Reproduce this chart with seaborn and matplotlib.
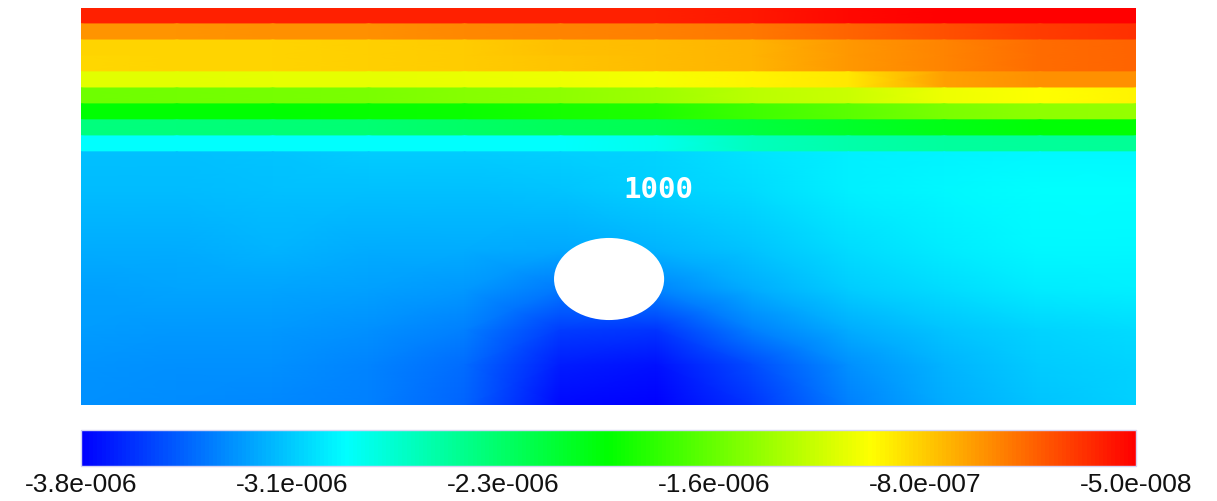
import numpy as np
import matplotlib
matplotlib.use("Agg")
import matplotlib.pyplot as plt
from matplotlib.colors import Normalize
from matplotlib.patches import Ellipse
import seaborn as sns

sns.set_theme(style="white")
plt.rcParams["font.family"] = ["Liberation Sans", "DejaVu Sans"]

# Horizontal node positions (m)
x_nodes = [0, 5, 10, 15, 20, 25, 30, 35, 40, 45, 50, 55]

# Layered upper zone: layer boundaries (depth, m) and values per layer (x1e-6)
layer_edges = [0.0, 0.83, 1.67, 2.5, 3.33, 4.17, 5.0, 5.83, 6.67, 7.5]
layer_1 = [-0.18, -0.18, -0.18, -0.18, -0.18, -0.18, -0.17, -0.14, -0.09, -0.05, -0.05, -0.05]
layer_2 = [-0.60, -0.60, -0.59, -0.58, -0.56, -0.54, -0.52, -0.50, -0.43, -0.35, -0.28, -0.24]
layer_3 = [-0.84, -0.84, -0.83, -0.82, -0.80, -0.76, -0.74, -0.71, -0.61, -0.54, -0.46, -0.43]
layer_4 = [-0.85, -0.84, -0.84, -0.82, -0.80, -0.77, -0.74, -0.71, -0.61, -0.54, -0.46, -0.43]
layer_5 = [-1.10, -1.10, -1.09, -1.08, -1.07, -1.06, -1.03, -0.95, -0.91, -0.65, -0.59, -0.58]
layer_6 = [-1.52, -1.51, -1.49, -1.48, -1.44, -1.40, -1.34, -1.25, -1.18, -1.06, -0.99, -0.95]
layer_7 = [-1.93, -1.93, -1.93, -1.91, -1.89, -1.85, -1.81, -1.70, -1.59, -1.48, -1.40, -1.37]
layer_8 = [-2.38, -2.37, -2.36, -2.34, -2.30, -2.26, -2.23, -2.15, -2.08, -2.00, -1.94, -1.93]
layer_9 = [-2.86, -2.86, -2.86, -2.86, -2.86, -2.86, -2.80, -2.62, -2.55, -2.51, -2.49, -2.48]

# Lower zone: node depths (m) and values per node row (x1e-6)
lower_depths = [7.5, 9.5, 12.6, 14.7, 16.8, 18.6, 20.7]
lower_1 = [-3.09, -3.09, -3.07, -3.05, -3.05, -3.03, -3.01, -2.96, -2.92, -2.90, -2.88, -2.88]
lower_2 = [-3.11, -3.11, -3.09, -3.09, -3.09, -3.07, -3.03, -2.98, -2.92, -2.88, -2.86, -2.86]
lower_3 = [-3.16, -3.16, -3.14, -3.16, -3.17, -3.18, -3.14, -3.07, -2.99, -2.93, -2.88, -2.88]
lower_4 = [-3.20, -3.19, -3.19, -3.21, -3.24, -3.35, -3.31, -3.16, -3.05, -2.98, -2.93, -2.92]
lower_5 = [-3.22, -3.23, -3.24, -3.27, -3.33, -3.58, -3.60, -3.33, -3.16, -3.07, -3.01, -2.99]
lower_6 = [-3.25, -3.26, -3.27, -3.31, -3.40, -3.69, -3.73, -3.52, -3.27, -3.13, -3.05, -3.01]
lower_7 = [-3.27, -3.28, -3.30, -3.33, -3.43, -3.76, -3.80, -3.60, -3.33, -3.16, -3.07, -3.03]

# Opening (m) and its label
opening_center = (27.53, 14.13)
opening_size = (5.74, 4.28)
opening_label = "1000"
label_pos = (30.1, 9.49)

# Colour scale
v_min, v_max = -3.8e-6, -5.0e-8
tick_values = [-3.8e-6, -3.05e-6, -2.3e-6, -1.55e-6, -8.0e-7, -5.0e-8]
tick_labels = ["-3.8e-006", "-3.1e-006", "-2.3e-006", "-1.6e-006", "-8.0e-007", "-5.0e-008"]

layers = [layer_1, layer_2, layer_3, layer_4, layer_5, layer_6, layer_7, layer_8, layer_9]
lower_rows = [lower_1, lower_2, lower_3, lower_4, lower_5, lower_6, lower_7]

# Node mesh: each layer gets a top and a bottom row so its edges stay sharp
row_depths, row_values = [], []
for i, vals in enumerate(layers):
    row_depths += [layer_edges[i], layer_edges[i + 1]]
    row_values += [vals, vals]
row_depths += lower_depths
row_values += lower_rows

X, Y = np.meshgrid(np.array(x_nodes, float), np.array(row_depths, float))
Z = np.array(row_values, float) * 1e-6

cmap = sns.blend_palette(["#0000ff", "#00ffff", "#00ff00", "#ffff00", "#ff0000"], as_cmap=True)
norm = Normalize(vmin=v_min, vmax=v_max)

fig = plt.figure(figsize=(12.17, 5.01), dpi=100)
fig.patch.set_facecolor("white")

ax = fig.add_axes([81 / 1217, 1 - 405 / 501, 1055 / 1217, 397 / 501])
mesh = ax.pcolormesh(X, Y, Z, cmap=cmap, norm=norm, shading="gouraud")
ax.add_patch(Ellipse(opening_center, opening_size[0], opening_size[1],
                     facecolor="white", edgecolor="none", zorder=3))
ax.text(label_pos[0], label_pos[1], opening_label, color="white", fontsize=21,
        fontweight="bold", family="DejaVu Sans Mono", ha="center", va="center", zorder=4)
ax.set_xlim(min(x_nodes), max(x_nodes))
ax.set_ylim(lower_depths[-1], layer_edges[0])
ax.set_axis_off()

cax = fig.add_axes([81 / 1217, 1 - 466 / 501, 1055 / 1217, 36 / 501])
cb = fig.colorbar(mesh, cax=cax, orientation="horizontal")
cb.set_ticks(tick_values)
cb.set_ticklabels(tick_labels)
cax.tick_params(length=0, labelsize=19, pad=5, colors="#111111")
cb.outline.set_edgecolor("#d4d4f4")
cb.outline.set_linewidth(1.0)

fig.savefig("out.png", dpi=100, facecolor="white")
